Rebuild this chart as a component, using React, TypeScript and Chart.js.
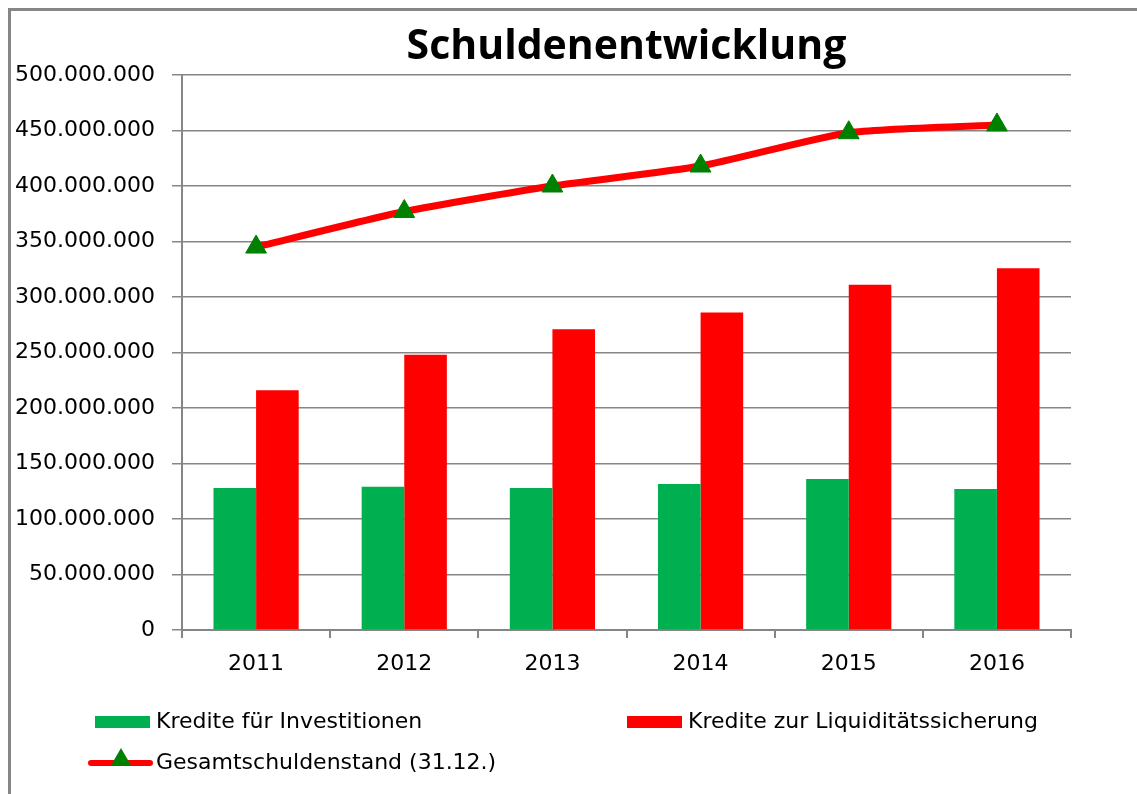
import React, { useEffect, useRef } from "react";
import { Chart, registerables } from "chart.js";

Chart.register(...registerables);

// ---- data ----
const years = ["2011", "2012", "2013", "2014", "2015", "2016"];
const investitionen = [128000000, 129000000, 128000000, 131500000, 136000000, 127000000];
const liquiditaet = [216000000, 248000000, 271000000, 286000000, 311000000, 326000000];
const gesamt = [345000000, 377000000, 400000000, 418000000, 448000000, 455000000];
const seriesLabels = [
  "Kredite für Investitionen",
  "Kredite zur Liquiditätssicherung",
  "Gesamtschuldenstand (31.12.)",
];
const titleText = "Schuldenentwicklung";
const yMin = 0;
const yMax = 500000000;
const yStep = 50000000;

const GREEN = "#00B050";
const RED = "#FF0000";
const MARKER = "#008000";
const GRID = "#868686";
const FONT = "'DejaVu Sans', sans-serif";

function fmt(v: number): string {
  return Math.round(v)
    .toString()
    .replace(/\B(?=(\d{3})+(?!\d))/g, ".");
}

function triangle(ctx: CanvasRenderingContext2D, x: number, y: number, r: number) {
  ctx.beginPath();
  let a = 0;
  ctx.moveTo(x + Math.sin(a) * r, y - Math.cos(a) * r);
  a += (2 * Math.PI) / 3;
  ctx.lineTo(x + Math.sin(a) * r, y - Math.cos(a) * r);
  a += (2 * Math.PI) / 3;
  ctx.lineTo(x + Math.sin(a) * r, y - Math.cos(a) * r);
  ctx.closePath();
  ctx.fill();
}

const legendPlugin = {
  id: "excelLegend",
  afterDraw(chart: any) {
    const ctx: CanvasRenderingContext2D = chart.ctx;
    const ds = chart.data.datasets;
    ctx.save();
    ctx.font = `22px ${FONT}`;
    ctx.textBaseline = "middle";
    ctx.textAlign = "left";
    const barItems = [
      { ds: ds[0], x: 95, y: 722 },
      { ds: ds[1], x: 627, y: 722 },
    ];
    for (const it of barItems) {
      ctx.fillStyle = it.ds.backgroundColor;
      ctx.fillRect(it.x, it.y - 6, 55, 12);
      ctx.fillStyle = "#000";
      ctx.fillText(it.ds.label, it.x + 61, it.y);
    }
    const l = ds[2];
    const ly = 763;
    ctx.strokeStyle = l.borderColor;
    ctx.lineWidth = 6;
    ctx.lineCap = "round";
    ctx.beginPath();
    ctx.moveTo(91, ly);
    ctx.lineTo(150, ly);
    ctx.stroke();
    ctx.fillStyle = l.pointBackgroundColor;
    triangle(ctx, 121, ly - 3, 12);
    ctx.fillStyle = "#000";
    ctx.fillText(l.label, 156, ly);
    ctx.restore();
  },
};

export default function App() {
  const canvasRef = useRef<HTMLCanvasElement | null>(null);

  useEffect(() => {
    if (!canvasRef.current) return;
    const chart = new Chart(canvasRef.current, {
      type: "bar",
      data: {
        labels: years,
        datasets: [
          {
            type: "bar",
            label: seriesLabels[0],
            data: investitionen,
            backgroundColor: GREEN,
            borderWidth: 0,
            barPercentage: 1,
            categoryPercentage: 0.575,
            order: 1,
          },
          {
            type: "bar",
            label: seriesLabels[1],
            data: liquiditaet,
            backgroundColor: RED,
            borderWidth: 0,
            barPercentage: 1,
            categoryPercentage: 0.575,
            order: 1,
          },
          {
            type: "line",
            label: seriesLabels[2],
            data: gesamt,
            borderColor: RED,
            backgroundColor: RED,
            borderWidth: 7,
            tension: 0.2,
            fill: false,
            pointStyle: "triangle",
            pointRadius: 12,
            pointBorderWidth: 1,
            pointBackgroundColor: MARKER,
            pointBorderColor: MARKER,
            order: 0,
          } as any,
        ],
      },
      options: {
        responsive: false,
        animation: false,
        layout: { padding: { left: 0, right: 66, top: 0, bottom: 0 } },
        plugins: {
          legend: { display: false },
          tooltip: { enabled: false },
          title: {
            display: true,
            fullSize: false,
            text: titleText,
            color: "#000",
            font: { family: "'Open Sans', sans-serif", size: 41, weight: "bold", lineHeight: 1.2 },
            padding: { top: 23, bottom: 2.8 },
          },
        },
        scales: {
          x: {
            offset: true,
            grid: {
              offset: true,
              drawOnChartArea: false,
              drawTicks: true,
              tickLength: 8,
              color: GRID,
              lineWidth: 2,
            },
            border: { color: GRID, width: 2 },
            ticks: { color: "#000", font: { family: FONT, size: 22 }, padding: 13 },
            afterFit: (scale: any) => {
              scale.height = 164;
            },
          },
          y: {
            min: yMin,
            max: yMax,
            ticks: {
              stepSize: yStep,
              color: "#000",
              font: { family: FONT, size: 22 },
              padding: 17,
              callback: (v: any) => fmt(Number(v)),
            },
            grid: { color: GRID, lineWidth: 1.5, tickLength: 10 },
            border: { color: GRID, width: 2 },
            afterFit: (scale: any) => {
              scale.width = 182;
            },
          },
        },
      },
      plugins: [legendPlugin],
    });
    return () => chart.destroy();
  }, []);

  return (
    <div>
      <canvas
        ref={canvasRef}
        width={1137}
        height={794}
        style={{ position: "fixed", left: 0, top: 0, width: 1137, height: 794, background: "#fff" }}
      />
      <div
        style={{
          position: "fixed",
          left: 8,
          top: 8,
          width: 1129,
          height: 786,
          boxSizing: "border-box",
          borderLeft: `3px solid ${GRID}`,
          borderTop: `3px solid ${GRID}`,
          pointerEvents: "none",
        }}
      />
    </div>
  );
}
